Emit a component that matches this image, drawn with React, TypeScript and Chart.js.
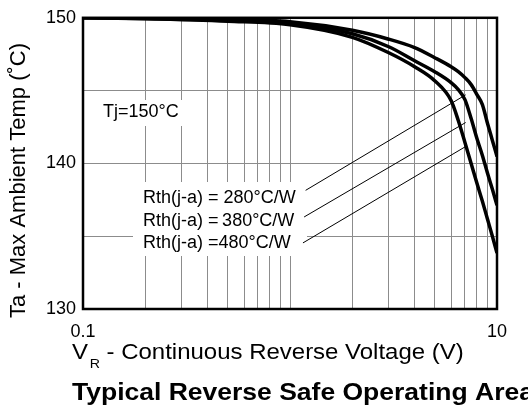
import React, { useEffect, useRef } from 'react';
import { Chart, registerables } from 'chart.js';

Chart.register(...registerables);

// Reverse voltage (V) sample points
const voltages = [0.1, 0.2, 0.5, 1, 2, 3, 4, 5, 6, 6.5, 7, 7.5, 8, 8.5, 9, 9.5, 10];
// Max ambient temperature (°C) for each thermal resistance
const temp280 = [150, 149.97, 149.88, 149.73, 149.14, 148.53, 147.95, 147.26, 146.64, 146.3, 145.89, 145.41, 144.73, 144.04, 142.74, 141.58, 140.48];
const temp380 = [150, 149.95, 149.83, 149.62, 148.9, 148.01, 147.05, 146.3, 145.55, 145.07, 144.38, 143.08, 141.71, 140.55, 139.32, 138.22, 137.12];
const temp480 = [150, 149.93, 149.76, 149.52, 148.66, 147.6, 146.64, 145.68, 144.32, 142.95, 141.44, 140.0, 138.63, 137.4, 136.16, 135.0, 133.84];

// Leader lines from the labels to the curves (data coordinates)
const leaderStartV = [1.19, 1.17, 1.155];
const leaderStartT = [138.15, 136.32, 134.54];
const leaderEndV = [7.06, 7.06, 7.06];
const leaderEndT = [144.71, 142.81, 141.16];

const xTicks = [0.1, 0.2, 0.3, 0.4, 0.5, 0.6, 0.7, 0.8, 0.9, 1, 2, 3, 4, 5, 6, 7, 8, 9, 10];
const xTickLabels: Record<string, string> = { '0.1': '0.1', '10': '10' };
const yTicks = [130, 135, 140, 145, 150];
const yTickLabels: Record<string, string> = { '130': '130', '140': '140', '150': '150' };

const rthLabels = ['Rth(j-a) = 280°C/W', 'Rth(j-a) =\u2009380°C/W', 'Rth(j-a) =480°C/W'];
const tjLabel = 'Tj=150°C';
const xTitleMain = 'V';
const xTitleSub = 'R';
const xTitleRest = ' - Continuous Reverse Voltage (V)';
const yTitle = 'Ta - Max Ambient Temp (˚C)';
const chartTitle = 'Typical Reverse Safe Operating Area';

const FONT = '"Liberation Sans", Arial, Helvetica, sans-serif';

const textPlugin = {
  id: 'customTexts',
  beforeDatasetsDraw(chart: any) {
    const ctx = chart.ctx as CanvasRenderingContext2D;
    ctx.save();
    ctx.fillStyle = '#ffffff';
    ctx.fillRect(95, 100, 95, 26);
    ctx.fillRect(133, 182, 174, 74);
    ctx.fillStyle = '#000000';
    ctx.font = `18px ${FONT}`;
    ctx.textAlign = 'left';
    ctx.textBaseline = 'alphabetic';
    ctx.fillText(tjLabel, 103, 117);
    rthLabels.forEach((t, i) => ctx.fillText(t, 143, 203 + i * 22.5));
    ctx.restore();
  },
  afterDraw(chart: any) {
    const ctx = chart.ctx as CanvasRenderingContext2D;
    const a = chart.chartArea;
    ctx.save();
    ctx.strokeStyle = '#000';
    ctx.lineWidth = 2.5;
    ctx.strokeRect(a.left, a.top, a.right - a.left, a.bottom - a.top);

    ctx.fillStyle = '#000';
    ctx.textBaseline = 'alphabetic';

    ctx.save();
    ctx.translate(25, 180.5);
    ctx.rotate(-Math.PI / 2);
    ctx.textAlign = 'center';
    ctx.font = `22px ${FONT}`;
    ctx.fillText(yTitle, 0, 0);
    ctx.restore();

    ctx.save();
    ctx.translate(72, 359);
    ctx.scale(1.09, 1);
    ctx.textAlign = 'left';
    ctx.font = `22px ${FONT}`;
    ctx.fillText(xTitleMain, 0, 0);
    const vw = ctx.measureText(xTitleMain).width;
    ctx.font = `13px ${FONT}`;
    ctx.fillText(xTitleSub, vw + 1.5, 9);
    const rw = ctx.measureText(xTitleSub).width;
    ctx.font = `22px ${FONT}`;
    ctx.fillText(xTitleRest, vw + 1.5 + rw, 0);
    ctx.restore();

    ctx.save();
    ctx.translate(72, 400);
    ctx.scale(1.152, 1);
    ctx.textAlign = 'left';
    ctx.font = `bold 23px ${FONT}`;
    ctx.fillText(chartTitle, 0, 0);
    ctx.restore();

    ctx.restore();
  },
};

export default function App() {
  const ref = useRef<HTMLCanvasElement | null>(null);
  useEffect(() => {
    if (!ref.current) return;
    const mk = (ys: number[]) => voltages.map((v, i) => ({ x: v, y: ys[i] }));
    const curve = (ys: number[]) => ({
      data: mk(ys),
      borderColor: '#000',
      borderWidth: 3.5,
      pointRadius: 0,
      fill: false,
      cubicInterpolationMode: 'monotone' as const,
    });
    const leader = (i: number) => ({
      data: [
        { x: leaderStartV[i], y: leaderStartT[i] },
        { x: leaderEndV[i], y: leaderEndT[i] },
      ],
      borderColor: '#000',
      borderWidth: 1,
      pointRadius: 0,
      fill: false,
      tension: 0,
    });
    const chart = new Chart(ref.current, {
      type: 'line',
      data: {
        datasets: [curve(temp280), curve(temp380), curve(temp480), leader(0), leader(1), leader(2)],
      },
      options: {
        responsive: false,
        animation: false,
        layout: { padding: { left: 0, right: 31, top: 17, bottom: 0 } },
        plugins: { legend: { display: false }, tooltip: { enabled: false }, title: { display: false } },
        scales: {
          x: {
            type: 'logarithmic',
            min: 0.1,
            max: 10,
            afterBuildTicks: (s: any) => {
              s.ticks = xTicks.map((v) => ({ value: v }));
            },
            afterFit: (s: any) => {
              s.height = 99;
            },
            grid: { color: '#8c8c8c', lineWidth: 1, drawTicks: false },
            border: { display: false },
            ticks: {
              autoSkip: false,
              maxRotation: 0,
              padding: 12,
              color: '#000',
              font: { family: FONT, size: 18 },
              callback: (v: any) => xTickLabels[String(v)] ?? '',
            },
          },
          y: {
            type: 'linear',
            min: 130,
            max: 150,
            afterBuildTicks: (s: any) => {
              s.ticks = yTicks.map((v) => ({ value: v }));
            },
            afterFit: (s: any) => {
              s.width = 83;
            },
            grid: { color: '#8c8c8c', lineWidth: 1, drawTicks: false },
            border: { display: false },
            ticks: {
              padding: 7,
              color: '#000',
              font: { family: FONT, size: 18 },
              callback: (v: any) => yTickLabels[String(v)] ?? '',
            },
          },
        },
      },
      plugins: [textPlugin],
    } as any);
    return () => chart.destroy();
  }, []);
  return (
    <div style={{ position: 'fixed', left: 0, top: 0, width: 528, height: 408, background: '#fff', overflow: 'hidden' }}>
      <canvas ref={ref} width={528} height={408} style={{ display: 'block' }} />
    </div>
  );
}
